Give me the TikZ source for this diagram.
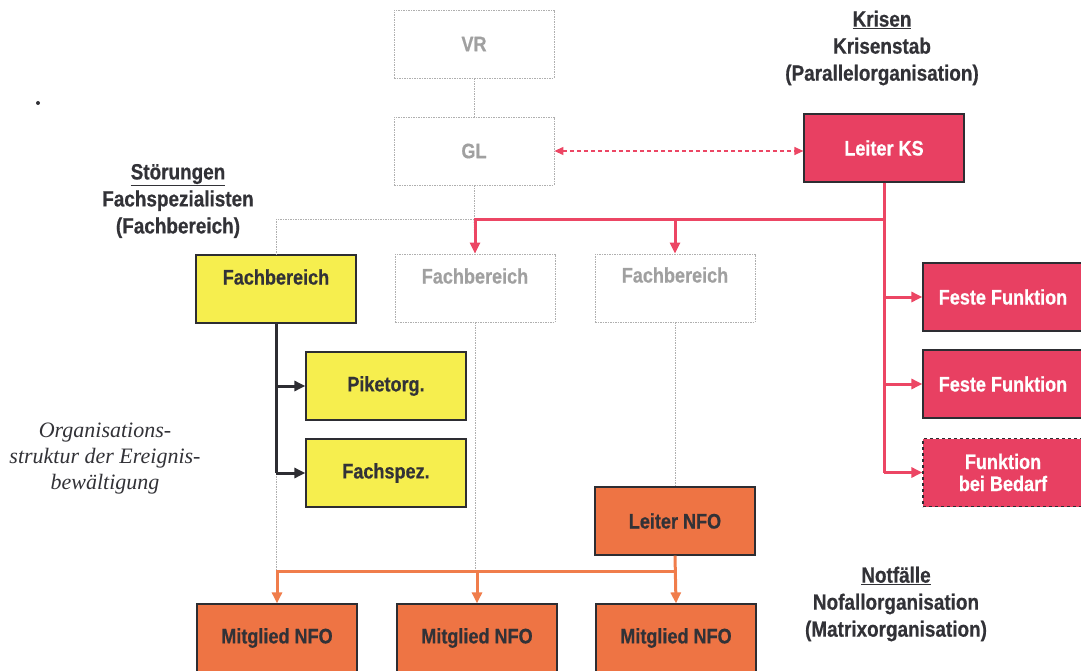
\documentclass[tikz,border=0pt]{standalone}
\usepackage{fontspec}
\setmainfont{Liberation Sans}
\newfontfamily\heavy{Liberation Sans}[FakeStretch=0.86, BoldFeatures={FakeBold=0.6}]
\newfontfamily\serifit{Liberation Serif}
\usetikzlibrary{arrows.meta}
\definecolor{yellowfill}{RGB}{246,238,78}
\definecolor{redfill}{RGB}{232,64,98}
\definecolor{orangefill}{RGB}{238,116,68}
\definecolor{redline}{RGB}{236,70,100}
\definecolor{orangeline}{RGB}{240,125,75}
\definecolor{darktext}{RGB}{50,50,55}
\definecolor{graytext}{RGB}{160,160,160}
\definecolor{grayline}{RGB}{175,175,175}
\definecolor{boxborder}{RGB}{45,45,50}
\begin{document}
\begin{tikzpicture}[x=1pt,y=-1pt,
  boxfont/.style={font=\fontsize{21}{22}\selectfont\heavy\bfseries},
  box/.style={boxfont, draw=boxborder, line width=1.2pt, minimum width=160pt, minimum height=68pt, inner sep=0pt, align=center},
  ybox/.style={box, fill=yellowfill, text=darktext},
  rbox/.style={box, fill=redfill, text=white},
  obox/.style={box, fill=orangefill, text=darktext},
  gbox/.style={boxfont, draw=grayline, line width=0.8pt, dash pattern=on 1.5pt off 1pt, minimum width=160pt, minimum height=68pt, inner sep=0pt, text=graytext},
  btext/.style={boxfont, inner sep=0pt},
  lbl/.style={font=\fontsize{22}{27}\selectfont\heavy\bfseries, text=darktext, align=center, inner sep=0pt},
  gline/.style={draw=grayline, line width=0.8pt, dash pattern=on 1.5pt off 1pt},
  rline/.style={draw=redline, line width=3pt},
  kline/.style={draw=boxborder, line width=3pt},
  oline/.style={draw=orangeline, line width=3pt},
  tip/.style={-{Triangle[length=11pt,width=10pt]}},
]
\useasboundingbox (0,0) rectangle (1081,671);
\clip (0,0) rectangle (1081,671);

% boxes
\node[gbox] (vr) at (474,44) {VR};
\node[gbox] (gl) at (474,151) {GL};
\node[rbox] (ks) at (884,148) {Leiter KS};
\node[ybox] (fb1) at (276,289) {};
\node[btext, text=darktext] at (276,277) {Fachbereich};
\node[gbox] (fb2) at (475,288) {};
\node[btext, text=graytext] at (475,276) {Fachbereich};
\node[gbox] (fb3) at (675,288) {};
\node[btext, text=graytext] at (675,275) {Fachbereich};
\node[ybox] (pik) at (386,386) {Piketorg.};
\node[ybox] (fsp) at (386,473) {Fachspez.};
\node[obox] (lnfo) at (675,521) {Leiter NFO};
\node[obox] (m1) at (277,638) {Mitglied NFO};
\node[obox] (m2) at (477,638) {Mitglied NFO};
\node[obox] (m3) at (676,638) {Mitglied NFO};
\node[rbox] (ff1) at (1003,297) {Feste Funktion};
\node[rbox] (ff2) at (1003,384) {Feste Funktion};
\node[rbox, dashed] (fbd) at (1003,472.5) {Funktion\\bei Bedarf};

% labels
\node[lbl] (krisen) at (882,48) {\underline{Krisen}\\Krisenstab\\(Parallelorganisation)};
\node[lbl] (stoer) at (178,201) {\underline{Störungen}\\Fachspezialisten\\(Fachbereich)};
\node[lbl] (notf) at (896,604) {\underline{Notfälle}\\Nofallorganisation\\(Matrixorganisation)};
\node[font=\fontsize{22}{26}\selectfont\serifit\itshape, text=darktext, align=center, inner sep=0pt] (org) at (105,459) {Organisations-\\struktur der Ereignis-\\bewältigung};
\fill[darktext] (38,103) circle (2);

% coordinates
\coordinate (j1) at (474,219);
\coordinate (oj) at (676,571);

% gray connectors
\draw[gline] (vr) -- (gl);
\draw[gline] (gl.south) -- (j1);
\draw[gline] (j1) -| (fb1.north);
\draw[gline] (j1) -- (fb2.north);
\draw[gline] (fb1.south) -- (fb1.south |- oj);
\draw[gline] (fb2.south) -- (fb2.south |- oj);
\draw[gline] (fb3.south) -- (lnfo.north);

% red connectors
\draw[rline] (ks.south) -- (ks.south |- fbd.west);
\draw[rline, tip] (ks.south |- j1) -| (fb2.north);
\draw[rline, tip] (fb3.north |- j1) -- (fb3.north);
\draw[rline, tip] (ks.south |- ff1.west) -- (ff1.west);
\draw[rline, tip] (ks.south |- ff2.west) -- (ff2.west);
\draw[rline, tip] (ks.south |- fbd.west) -- (fbd.west);
\draw[draw=redline, line width=1.2pt, dash pattern=on 4pt off 3pt, {Triangle[length=9pt,width=8pt]}-{Triangle[length=9pt,width=8pt]}] (gl.east) -- (gl.east -| ks.west);

% black connectors
\draw[kline] (fb1.south) -- (fb1.south |- fsp.west);
\draw[kline, tip] (fb1.south |- pik.west) -- (pik.west);
\draw[kline, tip] (fb1.south |- fsp.west) -- (fsp.west);

% orange connectors
\draw[oline, tip] (lnfo.south) -- (m3.north);
\draw[oline, tip] (oj) -| (m1.north);
\draw[oline, tip] (oj -| m2.north) -- (m2.north);
\end{tikzpicture}
\end{document}
